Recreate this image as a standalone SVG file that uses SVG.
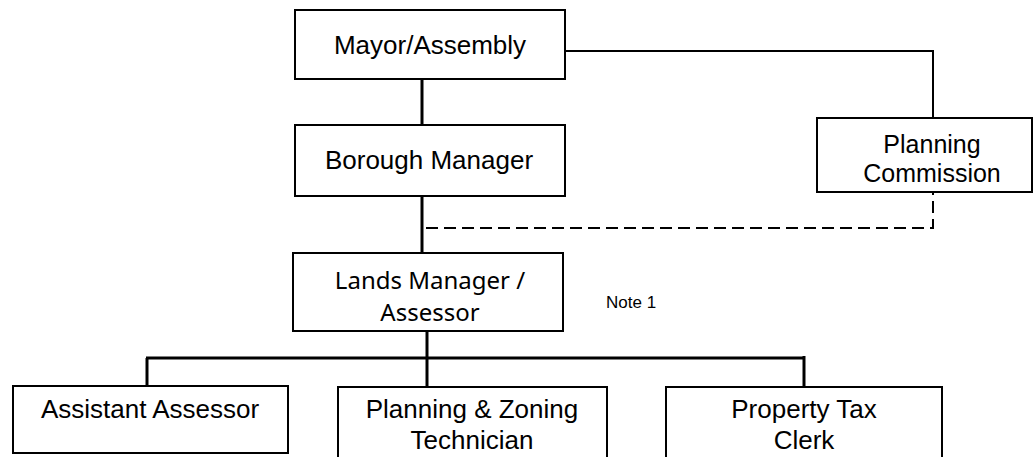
<svg xmlns="http://www.w3.org/2000/svg" width="1034" height="457" viewBox="0 0 1034 457">
<style>
.box{fill:#fff;stroke:#000;stroke-width:2}
.t{font-family:"Liberation Sans",Arial,sans-serif;font-size:26px;fill:#000;text-anchor:middle}
.t3{font-family:"Liberation Sans",Arial,sans-serif;font-size:25px;fill:#000;text-anchor:middle}
.t2{font-family:"Noto Sans","Open Sans",sans-serif;font-size:24px;fill:#000;text-anchor:middle}
.n{font-family:"Liberation Sans",Arial,sans-serif;font-size:17px;fill:#000}
.c{fill:none;stroke:#000;stroke-width:3}
.thin{fill:none;stroke:#000;stroke-width:2}
.d{fill:none;stroke:#000;stroke-width:2;stroke-dasharray:12 6}
</style>
<rect width="1034" height="457" fill="#fff"/>
<g id="connectors">
<path class="c" d="M422,79V125"/>
<path class="thin" d="M565,51H933V118"/>
<path class="c" d="M422,196V253"/>
<path class="d" d="M426,228H933V192"/>
<path class="c" d="M427,331V387"/>
<path class="c" d="M146,358H804"/>
<path class="c" d="M147,358V386"/>
<path class="c" d="M804,356V386"/>
</g>
<g id="mayor"><rect class="box" x="295" y="10" width="270" height="69"/><text class="t" x="430" y="54">Mayor/Assembly</text></g>
<g id="borough"><rect class="box" x="295" y="125" width="270" height="71"/><text class="t" x="429" y="169">Borough Manager</text></g>
<g id="planning-commission"><rect class="box" x="817" y="118" width="215" height="74"/><text class="t3" x="932" y="153">Planning</text><text class="t3" x="932" y="182">Commission</text></g>
<g id="lands"><rect class="box" x="293" y="253" width="270" height="78"/><text class="t2" x="430" y="289">Lands Manager /</text><text class="t2" x="430" y="321">Assessor</text></g>
<g id="note"><text class="n" x="606" y="308">Note 1</text></g>
<g id="assistant"><rect class="box" x="13" y="386" width="275" height="67"/><text class="t" x="150" y="418">Assistant Assessor</text></g>
<g id="pz"><rect class="box" x="338" y="387" width="269" height="80"/><text class="t" x="472" y="418">Planning &amp; Zoning</text><text class="t" x="472" y="449">Technician</text></g>
<g id="ptc"><rect class="box" x="666" y="387" width="276" height="80"/><text class="t" x="804" y="418">Property Tax</text><text class="t" x="804" y="449">Clerk</text></g>
</svg>
